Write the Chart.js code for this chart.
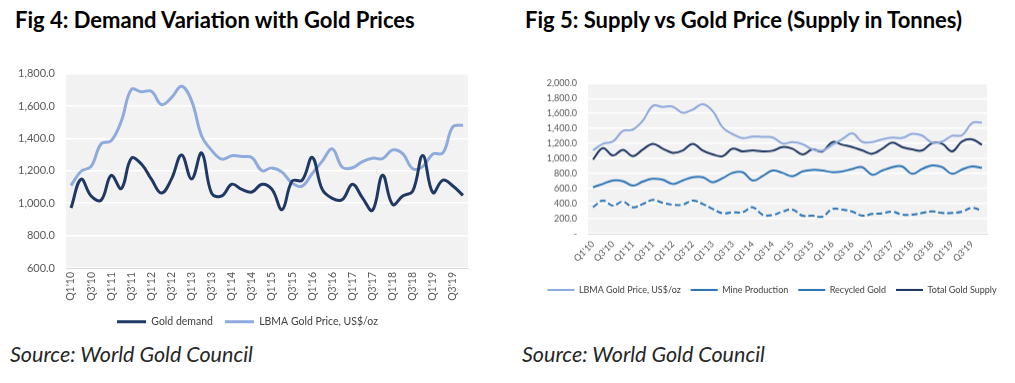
<!DOCTYPE html>
<html><head><meta charset="utf-8">
<script src="https://cdn.jsdelivr.net/npm/chart.js@4.4.0/dist/chart.umd.min.js"></script>
<style>
html,body{margin:0;padding:0;background:#fff;}
#wrap{position:relative;width:1015px;height:383px;overflow:hidden;font-family:Lato,"Open Sans",sans-serif;}
.title{position:absolute;font-weight:700;font-size:22px;color:#000;white-space:nowrap;}
.src{position:absolute;font-style:italic;font-size:21.5px;color:#262626;white-space:nowrap;}
.cv{position:absolute;}
</style></head>
<body>
<div id="wrap">
<div class="title" style="left:15px;top:6px">Fig 4: Demand Variation with Gold Prices</div>
<div class="title" style="left:525px;top:6px">Fig 5: Supply vs Gold Price (Supply in Tonnes)</div>
<div class="cv" style="left:0;top:56px;width:495px;height:281px"><canvas id="c4"></canvas></div>
<div class="cv" style="left:520px;top:60px;width:495px;height:243.5px"><canvas id="c5"></canvas></div>
<div class="src" style="left:10px;top:341px">Source: World Gold Council</div>
<div class="src" style="left:522px;top:341px">Source: World Gold Council</div>
</div>
<script>
const quarters = ["Q1'10","Q2'10","Q3'10","Q4'10","Q1'11","Q2'11","Q3'11","Q4'11","Q1'12","Q2'12","Q3'12","Q4'12","Q1'13","Q2'13","Q3'13","Q4'13","Q1'14","Q2'14","Q3'14","Q4'14","Q1'15","Q2'15","Q3'15","Q4'15","Q1'16","Q2'16","Q3'16","Q4'16","Q1'17","Q2'17","Q3'17","Q4'17","Q1'18","Q2'18","Q3'18","Q4'18","Q1'19","Q2'19","Q3'19","Q4'19"];
const goldDemand = [970,1148,1044,1019,1172,1090,1277,1242,1148,1063,1150,1298,1150,1310,1060,1045,1117,1085,1069,1117,1085,960,1137,1142,1283,1085,1030,1023,1117,1033,956,1173,992,1044,1075,1294,1065,1142,1106,1048];
const lbmaPrice = [1109,1197,1227,1367,1386,1506,1702,1688,1691,1609,1652,1722,1632,1415,1326,1272,1293,1288,1282,1201,1218,1192,1124,1106,1183,1260,1335,1222,1219,1257,1278,1275,1329,1306,1213,1226,1304,1310,1472,1481];
const mineProduction = [618,663,708,699,641,694,730,717,663,708,752,752,685,739,810,819,708,766,841,810,766,828,850,841,819,828,863,886,784,841,886,895,797,863,908,886,797,855,895,877];
const recycledGold = [352,441,374,427,352,396,450,410,387,387,441,396,329,271,285,285,352,254,249,294,320,240,240,227,329,320,294,240,263,271,294,254,254,276,298,276,276,294,343,307];
const totalSupply = [988,1139,1041,1117,1032,1121,1197,1131,1077,1108,1197,1108,1055,1032,1131,1095,1108,1095,1104,1153,1131,1055,1121,1095,1219,1184,1153,1108,1064,1131,1211,1153,1121,1108,1206,1197,1095,1228,1255,1184];
const fig4Ticks = {min:600, max:1800, step:200};
const fig5Ticks = {min:0, max:2000, step:200};

const NAVY = '#203864', LIGHT = '#8FAADC', MID = '#2E75B6';
const FONT = 'Lato, "Open Sans", sans-serif';

const plotBg = {
  id:'plotBg',
  beforeDraw(chart){
    const a = chart.chartArea, ctx = chart.ctx;
    ctx.save(); ctx.fillStyle = '#F2F2F2';
    ctx.fillRect(a.left, a.top, a.right-a.left, a.bottom-a.top);
    ctx.restore();
  }
};
function fmt(v){ return v===0 ? '-' : Number(v).toLocaleString('en-US',{minimumFractionDigits:1,maximumFractionDigits:1}); }
function everyOther(val, idx){ return idx % 2 === 0 ? quarters[idx] : null; }
function spacer(w){
  return {type:'linear', position:'right', display:true, grid:{display:false, drawTicks:false}, border:{display:false}, ticks:{display:false}, afterFit(s){ s.width = w; }};
}

new Chart(document.getElementById('c4'), {
  type:'line',
  data:{ labels: quarters, datasets:[
    {label:'Gold demand', data: goldDemand, borderColor: NAVY, backgroundColor: NAVY, borderWidth:3, tension:0.4, pointRadius:0, fill:false},
    {label:'LBMA Gold Price, US$/oz', data: lbmaPrice, borderColor: LIGHT, backgroundColor: LIGHT, borderWidth:3, tension:0.4, pointRadius:0, fill:false}
  ]},
  options:{
    responsive:true, maintainAspectRatio:false, animation:false, devicePixelRatio:1,
    layout:{padding:{top:0,left:0,right:0,bottom:0}},
    plugins:{
      legend:{position:'bottom', labels:{usePointStyle:true, pointStyle:'line', pointStyleWidth:29, boxHeight:10, color:'#404040', font:{family:FONT,size:10.5}, padding:12}},
      tooltip:{enabled:false}
    },
    scales:{
      x:{offset:true, grid:{display:false, drawTicks:false}, border:{display:true,color:'#D9D9D9',width:1},
         ticks:{autoSkip:false, minRotation:90, maxRotation:90, callback:everyOther, color:'#595959', font:{family:FONT,size:10.5}, padding:4},
         afterFit(s){ s.height = 36.5; }},
      y:{min:fig4Ticks.min, max:fig4Ticks.max, grid:{color:'#FFFFFF', lineWidth:1.5, drawTicks:false}, border:{display:false},
         ticks:{stepSize:fig4Ticks.step, callback:fmt, color:'#595959', font:{family:FONT,size:11}, padding:11},
         afterFit(s){ s.width = 66; }},
      yr: spacer(27)
    }
  },
  plugins:[plotBg]
});

new Chart(document.getElementById('c5'), {
  type:'line',
  data:{ labels: quarters, datasets:[
    {label:'LBMA Gold Price, US$/oz', data: lbmaPrice, borderColor: LIGHT, backgroundColor: LIGHT, borderWidth:2, tension:0.4, pointRadius:0, fill:false},
    {label:'Mine Production', data: mineProduction, borderColor: MID, backgroundColor: MID, borderWidth:2, tension:0.4, pointRadius:0, fill:false},
    {label:'Recycled Gold', data: recycledGold, borderColor: MID, backgroundColor: MID, borderWidth:2, borderDash:[6,3], tension:0.4, pointRadius:0, fill:false},
    {label:'Total Gold Supply', data: totalSupply, borderColor: NAVY, backgroundColor: NAVY, borderWidth:2, tension:0.4, pointRadius:0, fill:false}
  ]},
  options:{
    responsive:true, maintainAspectRatio:false, animation:false, devicePixelRatio:1,
    layout:{padding:{top:23.3,left:9,right:0,bottom:0}},
    plugins:{
      legend:{position:'bottom', labels:{usePointStyle:true, pointStyle:'line', pointStyleWidth:27, boxHeight:9, color:'#404040', font:{family:FONT,size:9}, padding:10}},
      tooltip:{enabled:false}
    },
    scales:{
      x:{offset:true, grid:{display:false, drawTicks:false}, border:{display:true,color:'#D9D9D9',width:1},
         ticks:{autoSkip:false, minRotation:45, maxRotation:45, callback:everyOther, color:'#595959', font:{family:FONT,size:9}, padding:5},
         afterFit(s){ s.height = 41.5; }},
      y:{min:fig5Ticks.min, max:fig5Ticks.max, grid:{color:'#FFFFFF', lineWidth:1.5, drawTicks:false}, border:{display:false},
         ticks:{stepSize:fig5Ticks.step, callback:fmt, color:'#595959', font:{family:FONT,size:9}, padding:11},
         afterFit(s){ s.width = 59; }},
      yr: spacer(28)
    }
  },
  plugins:[plotBg]
});
</script>
</body></html>
